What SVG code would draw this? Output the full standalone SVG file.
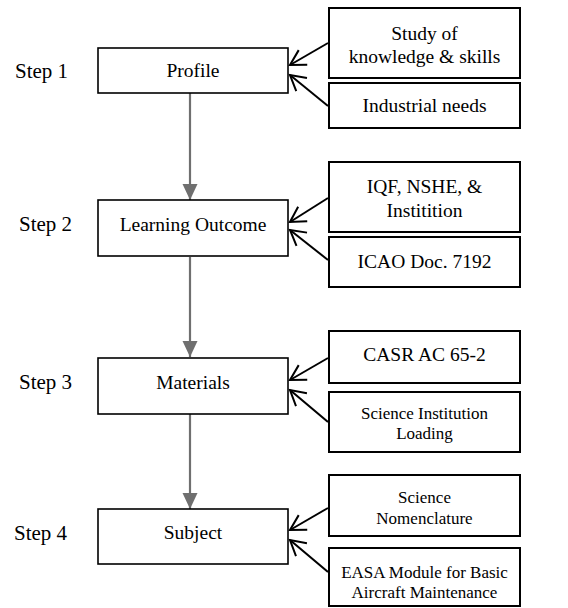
<svg xmlns="http://www.w3.org/2000/svg" width="568" height="608" viewBox="0 0 568 608">
<style>
.box{fill:#fff;stroke:#000;stroke-width:1.6}
.rbox{fill:#fff;stroke:#000;stroke-width:2}
text{font-family:'Liberation Serif','Times New Roman',serif;fill:#000}
.t{font-size:19.5px;text-anchor:middle}
.s{font-size:17px;text-anchor:middle}
.step{font-size:21px}
.flow{stroke:#6f6f6f;stroke-width:2.2;fill:none;marker-end:url(#tri)}
.in{stroke:#000;stroke-width:2;fill:none;marker-end:url(#open)}
</style>
<defs>
<marker id="tri" markerUnits="userSpaceOnUse" markerWidth="16" markerHeight="18" viewBox="-8 -16 16 17" refX="0" refY="0" orient="0">
<path d="M-7.5,-16 L7.5,-16 L0,0 Z" fill="#6f6f6f"/>
</marker>
<marker id="open" markerUnits="userSpaceOnUse" markerWidth="24" markerHeight="24" viewBox="-18 -12 20 24" refX="0" refY="0" orient="auto">
<path d="M-15,-8.5 L0,0 L-15,8.5" fill="none" stroke="#000" stroke-width="2"/>
</marker>
<clipPath id="clipF"><rect x="329" y="392" width="191" height="51"/></clipPath>
</defs>

<g id="steps">
<text class="step" x="15" y="78">Step 1</text>
<text class="step" x="19" y="231">Step 2</text>
<text class="step" x="19" y="389">Step 3</text>
<text class="step" x="14" y="540">Step 4</text>
</g>

<g id="connectors">
<line class="flow" x1="190" y1="93" x2="190" y2="200"/>
<line class="flow" x1="190" y1="257" x2="190" y2="357"/>
<line class="flow" x1="190" y1="414" x2="190" y2="509"/>
<path class="in" d="M328,43 L290,65"/>
<path class="in" d="M328,106 L290,75"/>
<path class="in" d="M328,198 L290,222"/>
<path class="in" d="M328,260 L290,230"/>
<path class="in" d="M328,358 L290,380"/>
<path class="in" d="M328,422 L290,390"/>
<path class="in" d="M328,508 L290,530"/>
<path class="in" d="M328,572 L290,540"/>
</g>

<g id="profile">
<rect class="box" x="98" y="48" width="190" height="45"/>
<text class="t" x="193" y="77">Profile</text>
</g>
<g id="learning-outcome">
<rect class="box" x="98" y="200" width="190" height="56"/>
<text class="t" x="193" y="231">Learning Outcome</text>
</g>
<g id="materials">
<rect class="box" x="98" y="358" width="190" height="56"/>
<text class="t" x="193" y="389">Materials</text>
</g>
<g id="subject">
<rect class="box" x="98" y="509" width="190" height="55"/>
<text class="t" x="193" y="539">Subject</text>
</g>

<g id="study">
<rect class="rbox" x="329" y="8" width="191" height="70"/>
<text class="t" x="424.5" y="40">Study of</text>
<text class="t" x="424.5" y="63">knowledge &amp; skills</text>
</g>
<g id="industrial">
<rect class="rbox" x="329" y="83" width="191" height="45"/>
<text class="t" x="424.5" y="112">Industrial needs</text>
</g>
<g id="iqf">
<rect class="rbox" x="329" y="162" width="191" height="70"/>
<text class="t" x="424.5" y="193">IQF, NSHE, &amp;</text>
<text class="t" x="424.5" y="217">Institition</text>
</g>
<g id="icao">
<rect class="rbox" x="329" y="237" width="191" height="50"/>
<text class="t" x="424.5" y="268">ICAO Doc. 7192</text>
</g>
<g id="casr">
<rect class="rbox" x="329" y="331" width="191" height="52"/>
<text class="t" x="424.5" y="361">CASR AC 65-2</text>
</g>
<g id="science-institution">
<rect class="rbox" x="329" y="392" width="191" height="60"/>
<text class="s" x="424.5" y="419" clip-path="url(#clipF)">Science Institution</text>
<text class="s" x="424.5" y="439" clip-path="url(#clipF)">Loading</text>
</g>
<g id="nomenclature">
<rect class="rbox" x="329" y="475" width="191" height="61"/>
<text class="s" x="424.5" y="503">Science</text>
<text class="s" x="424.5" y="524">Nomenclature</text>
</g>
<g id="easa">
<rect class="rbox" x="329" y="548" width="191" height="58"/>
<text class="s" x="424.5" y="578">EASA Module for Basic</text>
<text class="s" x="424.5" y="598">Aircraft Maintenance</text>
</g>
</svg>
